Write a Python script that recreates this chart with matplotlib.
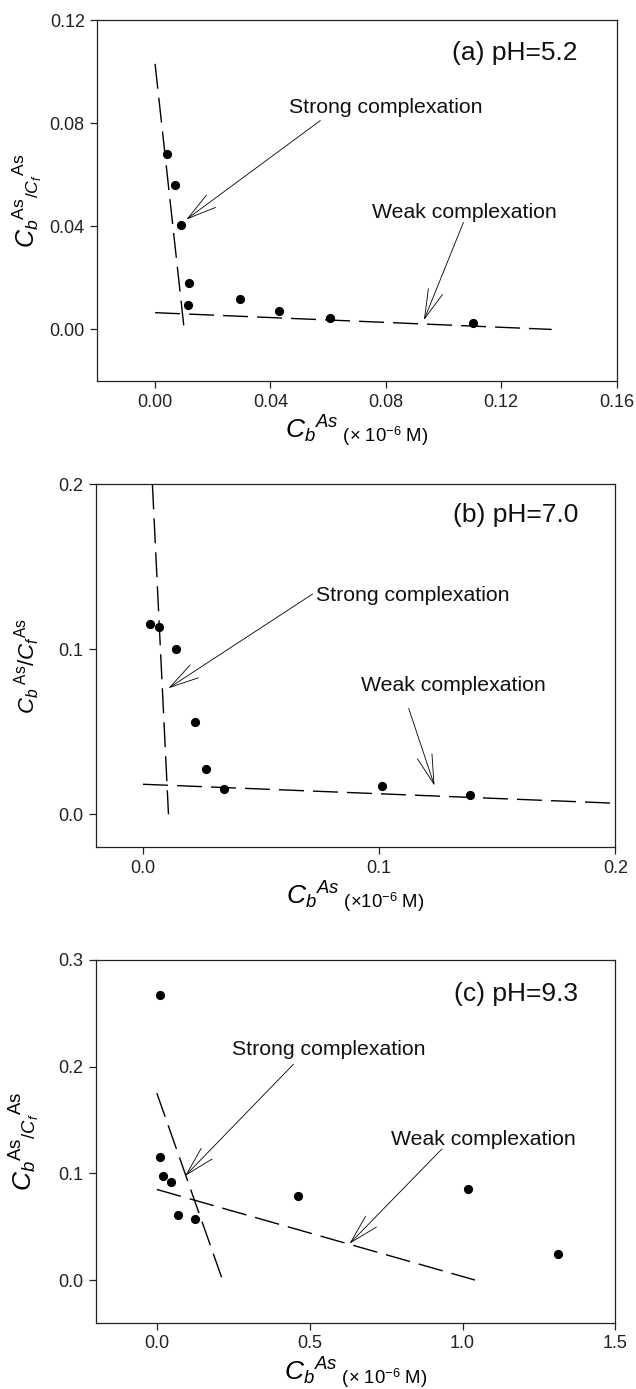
import matplotlib
matplotlib.use("Agg")
import matplotlib.pyplot as plt

plt.rcParams['font.family'] = ['Liberation Sans', 'DejaVu Sans']
plt.rcParams['mathtext.fontset'] = 'custom'
plt.rcParams['mathtext.rm'] = 'Liberation Sans'
plt.rcParams['mathtext.it'] = 'Liberation Sans:italic'
plt.rcParams['mathtext.bf'] = 'Liberation Sans:bold'

# ---------------- data ----------------
# panel (a) pH 5.2
a_x = [0.0042, 0.0069, 0.0091, 0.0117, 0.0114, 0.0293, 0.0431, 0.0607, 0.1102]
a_y = [0.0680, 0.0559, 0.0406, 0.0181, 0.0093, 0.0119, 0.0070, 0.0046, 0.0025]
a_strong_x = [0.0, 0.0101]
a_strong_y = [0.103, 0.0]
a_weak_x = [0.0, 0.1375]
a_weak_y = [0.0065, 0.0]
a_xticks = [0.00, 0.04, 0.08, 0.12, 0.16]
a_yticks = [0.00, 0.04, 0.08, 0.12]

# panel (b) pH 7.0
b_x = [0.0029, 0.0070, 0.0141, 0.0220, 0.0268, 0.0342, 0.1014, 0.1385]
b_y = [0.1156, 0.1137, 0.1000, 0.0560, 0.0275, 0.0154, 0.0174, 0.0117]
b_strong_x = [0.0040, 0.0108]
b_strong_y = [0.200, 0.0]
b_weak_x = [0.0, 0.2]
b_weak_y = [0.0182, 0.0067]
b_xticks = [0.0, 0.1, 0.2]
b_yticks = [0.0, 0.1, 0.2]

# panel (c) pH 9.3
c_x = [0.0106, 0.0106, 0.0212, 0.0451, 0.0690, 0.1233, 0.4602, 1.0186, 1.3117]
c_y = [0.2670, 0.1149, 0.0977, 0.0918, 0.0606, 0.0574, 0.0790, 0.0855, 0.0240]
c_strong_x = [0.0, 0.2149]
c_strong_y = [0.1751, 0.0]
c_weak_x = [0.0, 1.041]
c_weak_y = [0.0849, 0.0]
c_xticks = [0.0, 0.5, 1.0, 1.5]
c_yticks = [0.0, 0.1, 0.2, 0.3]

panels = [
    dict(x=a_x, y=a_y, sx=a_strong_x, sy=a_strong_y, wx=a_weak_x, wy=a_weak_y,
         xticks=a_xticks, yticks=a_yticks, xfmt='{:.2f}', yfmt='{:.2f}',
         xlim=(-0.02, 0.16), ylim=(-0.02, 0.12),
         title='(a) pH=5.2', title_xy=(0.1465, 0.1045),
         strong_txt=(0.0464, 0.0841), strong_tail=(0.0573, 0.0810), strong_head=(0.0108, 0.0426),
         weak_txt=(0.0751, 0.0432), weak_tail=(0.1069, 0.0415), weak_head=(0.0932, 0.0036),
         xlabel=r'$C_b{}^{As}{}_{\mathrm{\ (\times\ 10^{-6}\ M)}}$',
         ylabel=r'$C_b{}^{\mathrm{As}}{}_{/C_f}{}^{\mathrm{As}}$', ylsize=18,
         pos=[0.1531, 0.7257, 0.8164, 0.2599]),
    dict(x=b_x, y=b_y, sx=b_strong_x, sy=b_strong_y, wx=b_weak_x, wy=b_weak_y,
         xticks=b_xticks, yticks=b_yticks, xfmt='{:.1f}', yfmt='{:.1f}',
         xlim=(-0.02, 0.2), ylim=(-0.02, 0.2),
         title='(b) pH=7.0', title_xy=(0.1844, 0.1774),
         strong_txt=(0.0732, 0.1295), strong_tail=(0.0718, 0.1335), strong_head=(0.0108, 0.0764),
         weak_txt=(0.0921, 0.0749), weak_tail=(0.1125, 0.0642), weak_head=(0.1234, 0.0174),
         xlabel=r'$C_b{}^{As}{}_{\mathrm{\ (\times 10^{-6}\ M)}}$',
         ylabel=r'$C_b{}^{\ \mathrm{As}}/C_f{}^{\mathrm{As}}$', ylsize=16,
         pos=[0.1505, 0.3900, 0.8171, 0.2613]),
    dict(x=c_x, y=c_y, sx=c_strong_x, sy=c_strong_y, wx=c_weak_x, wy=c_weak_y,
         xticks=c_xticks, yticks=c_yticks, xfmt='{:.1f}', yfmt='{:.1f}',
         xlim=(-0.2, 1.5), ylim=(-0.04, 0.3),
         title='(c) pH=9.3', title_xy=(1.379, 0.2619),
         strong_txt=(0.2454, 0.2111), strong_tail=(0.447, 0.2023), strong_head=(0.0928, 0.0977),
         weak_txt=(0.7666, 0.1268), weak_tail=(0.932, 0.1227), weak_head=(0.630, 0.0340),
         xlabel=r'$C_b{}^{As}{}_{\mathrm{\ (\times\ 10^{-6}\ M)}}$',
         ylabel=r'$C_b{}^{\mathrm{As}}{}_{/C_f}{}^{\mathrm{As}}$', ylsize=19,
         pos=[0.1505, 0.0477, 0.8171, 0.2612]),
]

fig = plt.figure(figsize=(6.36, 13.89), dpi=100)

arrow_style = '->,head_length=2.1,head_width=0.55'

for p in panels:
    ax = fig.add_axes(p['pos'])
    ax.plot(p['x'], p['y'], 'o', color='black', markersize=5.6, zorder=3)
    ax.plot(p['sx'], p['sy'], color='black', lw=1.0, dashes=(18, 6.5))
    ax.plot(p['wx'], p['wy'], color='black', lw=1.0, dashes=(18, 6.5))
    ax.set_xlim(*p['xlim'])
    ax.set_ylim(*p['ylim'])
    ax.set_xticks(p['xticks'])
    ax.set_xticklabels([p['xfmt'].format(v) for v in p['xticks']])
    ax.set_yticks(p['yticks'])
    ax.set_yticklabels([p['yfmt'].format(v) for v in p['yticks']])
    ax.tick_params(direction='out', length=5, width=0.9, labelsize=13, colors='#222222', pad=4)
    for s in ax.spines.values():
        s.set_linewidth(0.9)
        s.set_color('#222222')
    ax.text(p['title_xy'][0], p['title_xy'][1], p['title'], ha='right', va='baseline',
            fontsize=19, color='#111111')
    ax.text(p['strong_txt'][0], p['strong_txt'][1], 'Strong complexation', ha='left',
            va='baseline', fontsize=15.3, color='#111111')
    ax.text(p['weak_txt'][0], p['weak_txt'][1], 'Weak complexation', ha='left',
            va='baseline', fontsize=15.3, color='#111111')
    for tail, head in [(p['strong_tail'], p['strong_head']), (p['weak_tail'], p['weak_head'])]:
        ax.annotate('', xy=head, xytext=tail,
                    arrowprops=dict(arrowstyle=arrow_style, lw=0.6, color='black',
                                    shrinkA=0, shrinkB=0, mutation_scale=10))
    ax.set_xlabel(p['xlabel'], fontsize=19, labelpad=2)
    ax.set_ylabel(p['ylabel'], fontsize=p['ylsize'])
    ax.yaxis.set_label_coords(-0.103, 0.5)

fig.savefig('out.png', dpi=100)
